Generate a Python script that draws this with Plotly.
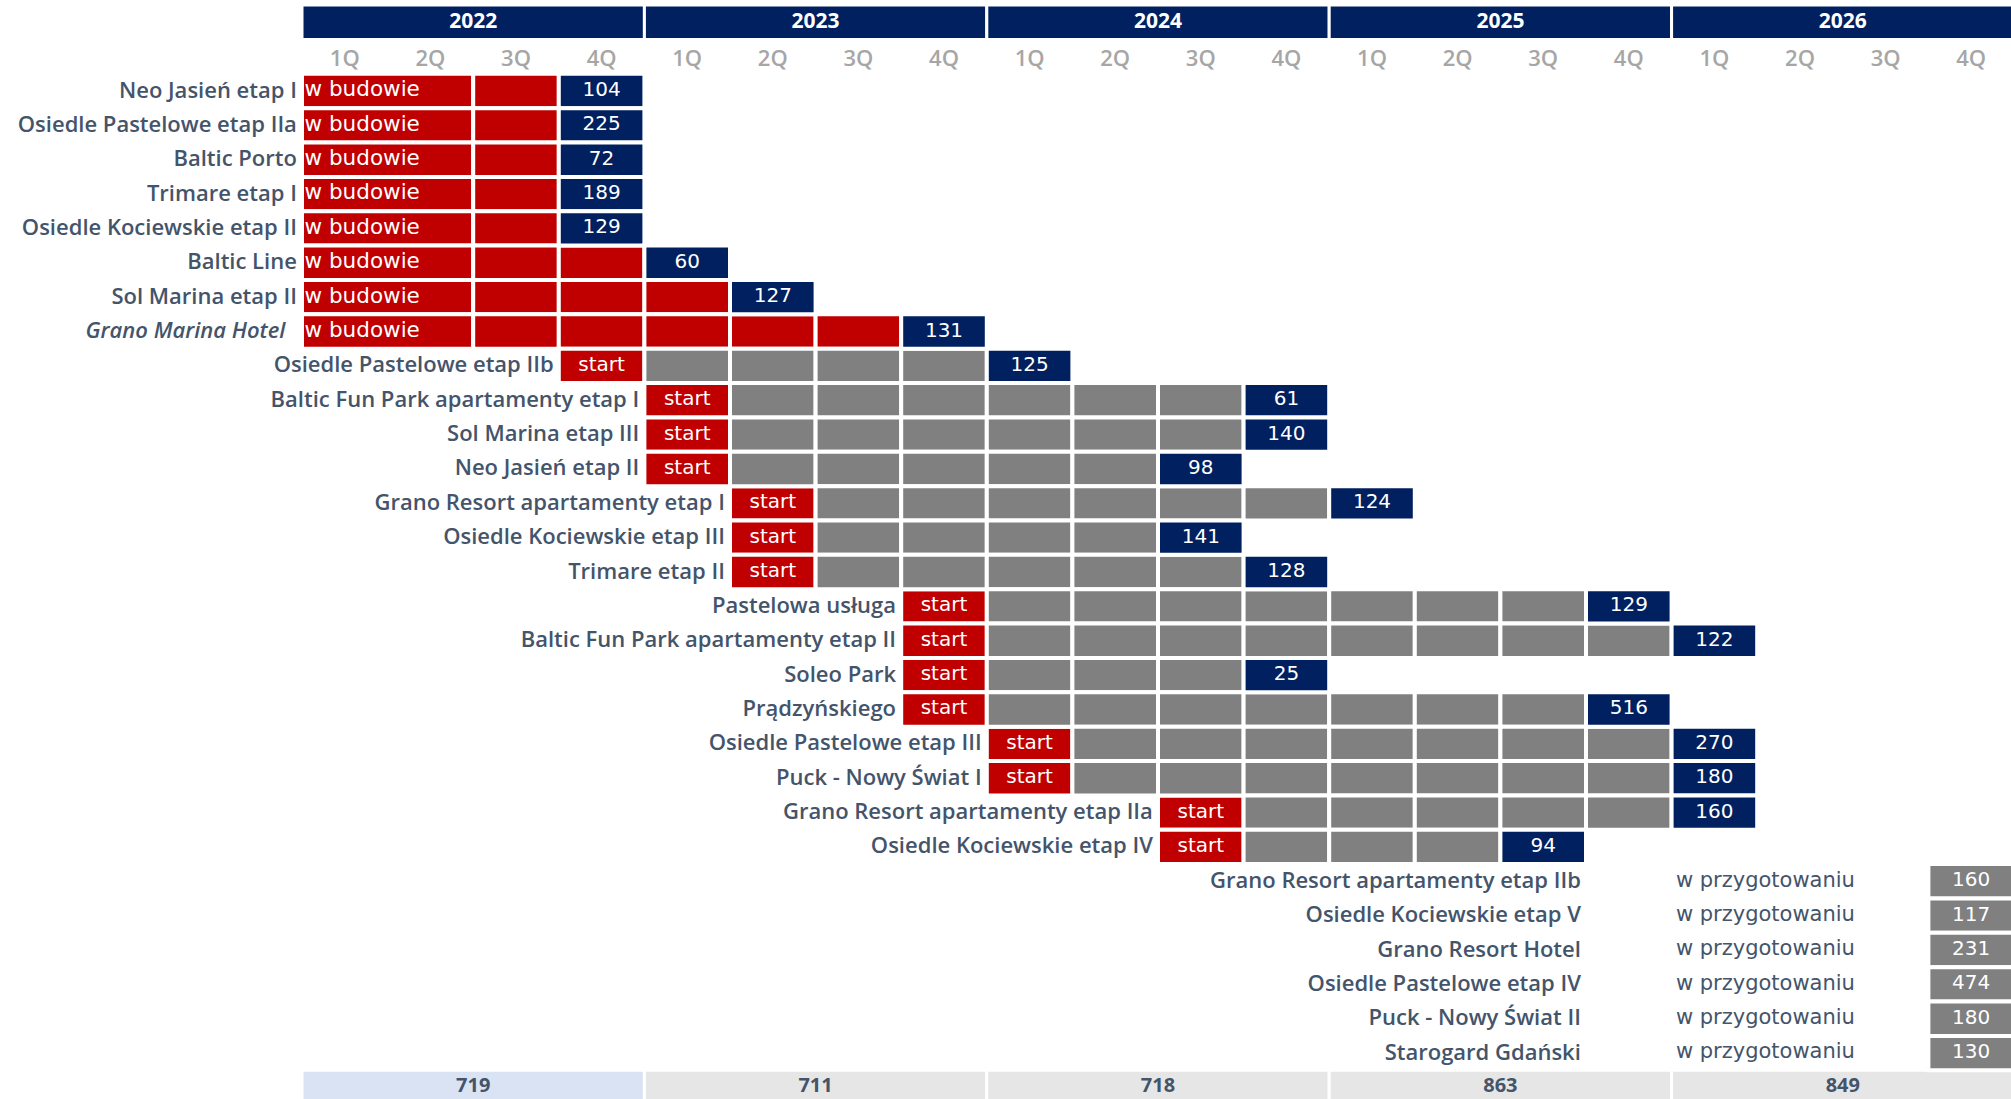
import plotly.graph_objects as go

# ---------------- data ----------------
years = ["2022", "2023", "2024", "2025", "2026"]
quarters = ["1Q", "2Q", "3Q", "4Q"]
year_totals = [719, 711, 718, 863, 849]

projects = [
    "Neo Jasień etap I",
    "Osiedle Pastelowe etap IIa",
    "Baltic Porto",
    "Trimare etap I",
    "Osiedle Kociewskie etap II",
    "Baltic Line",
    "Sol Marina etap II",
    "Grano Marina Hotel",
    "Osiedle Pastelowe etap IIb",
    "Baltic Fun Park apartamenty etap I",
    "Sol Marina etap III",
    "Neo Jasień etap II",
    "Grano Resort apartamenty etap I",
    "Osiedle Kociewskie etap III",
    "Trimare etap II",
    "Pastelowa usługa",
    "Baltic Fun Park apartamenty etap II",
    "Soleo Park",
    "Prądzyńskiego",
    "Osiedle Pastelowe etap III",
    "Puck - Nowy Świat I",
    "Grano Resort apartamenty etap IIa",
    "Osiedle Kociewskie etap IV",
]
status = ["w budowie"] * 8 + ["start"] * 15
start_period = [
    "2022Q1", "2022Q1", "2022Q1", "2022Q1", "2022Q1", "2022Q1", "2022Q1", "2022Q1",
    "2022Q4", "2023Q1", "2023Q1", "2023Q1", "2023Q2", "2023Q2", "2023Q2",
    "2023Q4", "2023Q4", "2023Q4", "2023Q4", "2024Q1", "2024Q1", "2024Q3", "2024Q3",
]
finish_period = [
    "2022Q4", "2022Q4", "2022Q4", "2022Q4", "2022Q4", "2023Q1", "2023Q2", "2023Q4",
    "2024Q1", "2024Q4", "2024Q4", "2024Q3", "2025Q1", "2024Q3", "2024Q4",
    "2025Q4", "2026Q1", "2024Q4", "2025Q4", "2026Q1", "2026Q1", "2026Q1", "2025Q3",
]
units = [104, 225, 72, 189, 129, 60, 127, 131,
         125, 61, 140, 98, 124, 141, 128,
         129, 122, 25, 516, 270, 180, 160, 94]
italic_projects = ["Grano Marina Hotel"]

prep_projects = [
    "Grano Resort apartamenty etap IIb",
    "Osiedle Kociewskie etap V",
    "Grano Resort Hotel",
    "Osiedle Pastelowe etap IV",
    "Puck - Nowy Świat II",
    "Starogard Gdański",
]
prep_status = "w przygotowaniu"
prep_units = [160, 117, 231, 474, 180, 130]
prep_label_end = "2025Q3"
prep_status_at = "2026Q1"
prep_box_at = "2026Q4"

# ---------------- styles ----------------
NAVY = "#002060"
RED = "#c00000"
GRAY = "#808080"
LABEL = "#44546a"
QLAB = "#a6a6a6"
TOT_FIRST = "#dae3f3"
TOT_OTHER = "#e6e6e6"
LAB_FONT = "Open Sans"
CELL_FONT = "DejaVu Sans"


def qidx(p):
    y, q = p.split("Q")
    return (int(y) - int(years[0])) * 4 + int(q) - 1


n_q = len(years) * 4
row_header, row_quarter = -2, -1
row_total = len(projects) + len(prep_projects)

seg = {"red": ([], [], []), "gray": ([], [], []), "navy": ([], [], [])}


def add(color, base, length, row):
    seg[color][0].append(base)
    seg[color][1].append(length)
    seg[color][2].append(row)


cell_txt = {"x": [], "y": [], "t": []}
left_txt = {"x": [], "y": [], "t": []}
lab_txt = {"x": [], "y": [], "t": []}

for i, name in enumerate(projects):
    s, f = qidx(start_period[i]), qidx(finish_period[i])
    if status[i] == "w budowie":
        add("red", s, 2, i)
        left_txt["x"].append(s + 0.03); left_txt["y"].append(i); left_txt["t"].append(status[i])
        for q in range(s + 2, f):
            add("red", q, 1, i)
    else:
        add("red", s, 1, i)
        cell_txt["x"].append(s + 0.5); cell_txt["y"].append(i); cell_txt["t"].append(status[i])
        for q in range(s + 1, f):
            add("gray", q, 1, i)
    add("navy", f, 1, i)
    cell_txt["x"].append(f + 0.5); cell_txt["y"].append(i); cell_txt["t"].append(str(units[i]))
    label = f"<i>{name}</i>\u00a0\u00a0" if name in italic_projects else name
    lab_txt["x"].append(s - 0.06); lab_txt["y"].append(i + 0.03); lab_txt["t"].append(label)

prep_txt = {"x": [], "y": [], "t": []}
for j, name in enumerate(prep_projects):
    r = len(projects) + j
    lab_txt["x"].append(qidx(prep_label_end) + 1 - 0.06); lab_txt["y"].append(r + 0.03); lab_txt["t"].append(name)
    prep_txt["x"].append(qidx(prep_status_at) + 0.05); prep_txt["y"].append(r); prep_txt["t"].append(prep_status)
    add("gray", qidx(prep_box_at), 1, r)
    cell_txt["x"].append(qidx(prep_box_at) + 0.5); cell_txt["y"].append(r); cell_txt["t"].append(str(prep_units[j]))

fig = go.Figure()

# year header bars
fig.add_trace(go.Bar(
    orientation="h", y=[row_header] * len(years), base=[4 * k for k in range(len(years))],
    x=[4] * len(years), width=1,
    marker=dict(color=NAVY, line=dict(color="white", width=3)),
    hoverinfo="skip", showlegend=False))
# totals bars
fig.add_trace(go.Bar(
    orientation="h", y=[row_total] * len(years), base=[4 * k for k in range(len(years))],
    x=[4] * len(years), width=1,
    marker=dict(color=[TOT_FIRST] + [TOT_OTHER] * (len(years) - 1), line=dict(color="white", width=3)),
    hoverinfo="skip", showlegend=False))

colors = {"red": RED, "gray": GRAY, "navy": NAVY}
for key in ["red", "gray", "navy"]:
    b, l, y = seg[key]
    fig.add_trace(go.Bar(
        orientation="h", y=y, base=b, x=l, width=1,
        marker=dict(color=colors[key], line=dict(color="white", width=4)),
        hoverinfo="skip", showlegend=False))

# year header text
fig.add_trace(go.Scatter(
    x=[4 * k + 2 for k in range(len(years))], y=[row_header] * len(years), mode="text",
    text=years, textposition="middle center",
    textfont=dict(family=LAB_FONT, size=21, color="white", weight=700),
    hoverinfo="skip", showlegend=False, cliponaxis=False))
# quarter labels
fig.add_trace(go.Scatter(
    x=[q + 0.5 for q in range(n_q)], y=[row_quarter + 0.1] * n_q, mode="text",
    text=[quarters[q % 4] for q in range(n_q)], textposition="middle center",
    textfont=dict(family=LAB_FONT, size=22, color=QLAB, weight=600),
    hoverinfo="skip", showlegend=False, cliponaxis=False))
# totals text
fig.add_trace(go.Scatter(
    x=[4 * k + 2 for k in range(len(years))], y=[row_total] * len(years), mode="text",
    text=[str(v) for v in year_totals], textposition="middle center",
    textfont=dict(family=LAB_FONT, size=20, color=LABEL, weight=700),
    hoverinfo="skip", showlegend=False, cliponaxis=False))
# project labels
fig.add_trace(go.Scatter(
    x=lab_txt["x"], y=lab_txt["y"], mode="text", text=lab_txt["t"],
    textposition="middle left",
    textfont=dict(family=LAB_FONT, size=22, color=LABEL, weight=600),
    hoverinfo="skip", showlegend=False, cliponaxis=False))
# cell texts
fig.add_trace(go.Scatter(
    x=cell_txt["x"], y=cell_txt["y"], mode="text", text=cell_txt["t"],
    textposition="middle center",
    textfont=dict(family=CELL_FONT, size=20, color="white"),
    hoverinfo="skip", showlegend=False, cliponaxis=False))
fig.add_trace(go.Scatter(
    x=left_txt["x"], y=left_txt["y"], mode="text", text=left_txt["t"],
    textposition="middle right",
    textfont=dict(family=CELL_FONT, size=21.5, color="white"),
    hoverinfo="skip", showlegend=False, cliponaxis=False))
fig.add_trace(go.Scatter(
    x=prep_txt["x"], y=prep_txt["y"], mode="text", text=prep_txt["t"],
    textposition="middle right",
    textfont=dict(family=CELL_FONT, size=21, color=LABEL),
    hoverinfo="skip", showlegend=False, cliponaxis=False))

fig.update_layout(
    width=2011, height=1099, margin=dict(l=0, r=0, t=0, b=0),
    paper_bgcolor="white", plot_bgcolor="white", barmode="overlay",
    xaxis=dict(range=[-3.528, 19.965], visible=False, fixedrange=True),
    yaxis=dict(range=[29.336, -2.648], visible=False, fixedrange=True),
)

fig.write_html("out.html", config={"displayModeBar": False},
               post_script="document.body.style.margin='0';document.body.style.overflow='hidden';")
